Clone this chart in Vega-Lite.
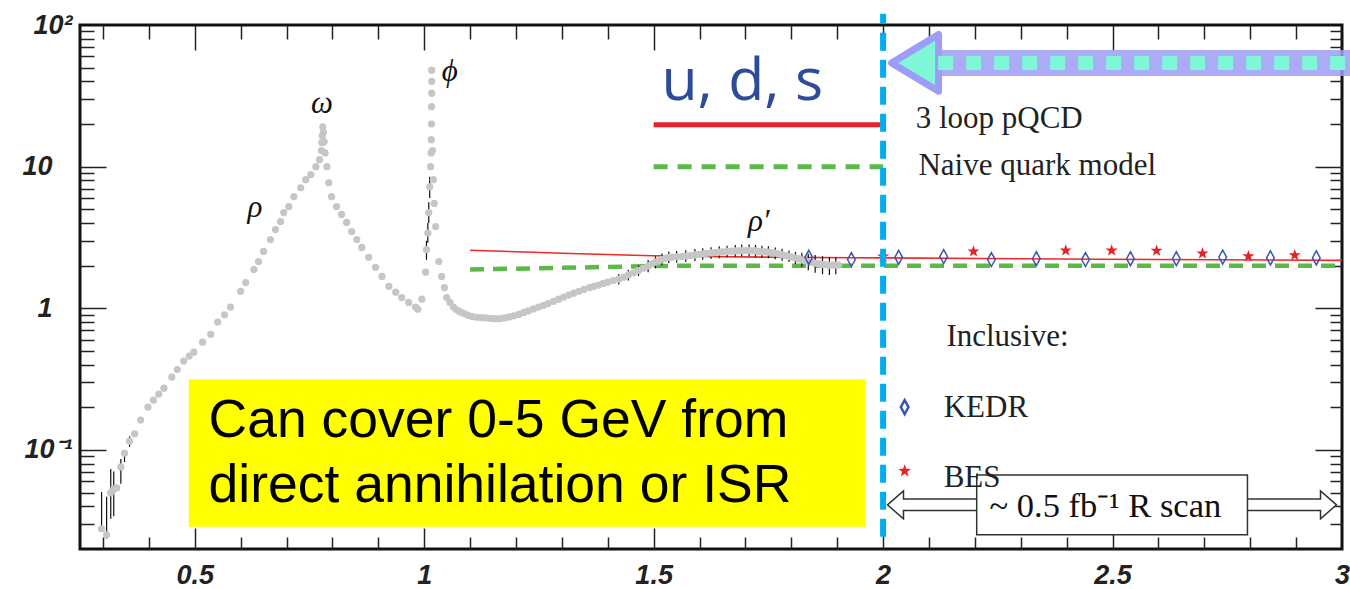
{
  "$schema": "https://vega.github.io/schema/vega-lite/v6.json",
  "width": 1262,
  "height": 524,
  "autosize": "none",
  "padding": {"left": 80, "top": 25, "right": 8, "bottom": 40},
  "background": "white",
  "config": {"view": {"stroke": "#111", "strokeWidth": 3}},
  "resolve": {"axis": {"x": "independent", "y": "independent"}},
  "datasets": {
    "ybox": [{"x1": 0.487, "x2": 1.962, "y1": 0.316, "y2": 0.0287}],
    "ytext": [
      {"x": 0.53, "y": 0.1236, "t": "Can cover 0-5 GeV from"},
      {"x": 0.53, "y": 0.043, "t": "direct annihilation or ISR"}
    ],
    "pqcd": [
      {"x": 1.1, "y": 2.57}, {"x": 1.2, "y": 2.51}, {"x": 1.3, "y": 2.45}, {"x": 1.4, "y": 2.4},
      {"x": 1.5, "y": 2.35}, {"x": 1.6, "y": 2.32}, {"x": 1.8, "y": 2.29}, {"x": 2.0, "y": 2.27},
      {"x": 2.3, "y": 2.24}, {"x": 2.6, "y": 2.21}, {"x": 3.0, "y": 2.18}
    ],
    "naive": [
      {"x": 1.1, "y": 1.88}, {"x": 1.3, "y": 1.93}, {"x": 1.5, "y": 1.99}, {"x": 1.6, "y": 2.0}, {"x": 3.0, "y": 2.0}
    ],
    "rdata": [
      {"x": 0.297, "y": 0.0278, "lo": 0.0265, "hi": 0.0506},
      {"x": 0.308, "y": 0.0252, "lo": 0.0236, "hi": 0.0467},
      {"x": 0.317, "y": 0.05, "lo": 0.0327, "hi": 0.0734},
      {"x": 0.3235, "y": 0.0531, "lo": 0.0341, "hi": 0.0706},
      {"x": 0.33, "y": 0.054},
      {"x": 0.339, "y": 0.0759, "lo": 0.0577, "hi": 0.0865},
      {"x": 0.347, "y": 0.095, "lo": 0.0822, "hi": 0.0984},
      {"x": 0.358, "y": 0.1156, "lo": 0.105, "hi": 0.125},
      {"x": 0.369, "y": 0.13},
      {"x": 0.382, "y": 0.1625},
      {"x": 0.398, "y": 0.201},
      {"x": 0.41, "y": 0.225},
      {"x": 0.4216, "y": 0.248},
      {"x": 0.433, "y": 0.273},
      {"x": 0.45, "y": 0.327},
      {"x": 0.462, "y": 0.37},
      {"x": 0.476, "y": 0.424},
      {"x": 0.488, "y": 0.46},
      {"x": 0.498, "y": 0.49},
      {"x": 0.517, "y": 0.577},
      {"x": 0.535, "y": 0.656},
      {"x": 0.55, "y": 0.8},
      {"x": 0.565, "y": 0.9},
      {"x": 0.578, "y": 1.02},
      {"x": 0.6, "y": 1.32},
      {"x": 0.611, "y": 1.52},
      {"x": 0.629, "y": 1.88},
      {"x": 0.639, "y": 2.14},
      {"x": 0.65, "y": 2.52},
      {"x": 0.665, "y": 3.06},
      {"x": 0.676, "y": 3.6},
      {"x": 0.687, "y": 4.1},
      {"x": 0.694, "y": 4.74},
      {"x": 0.705, "y": 5.23},
      {"x": 0.716, "y": 6.15},
      {"x": 0.731, "y": 7.1},
      {"x": 0.742, "y": 8.1},
      {"x": 0.753, "y": 8.8},
      {"x": 0.764, "y": 10},
      {"x": 0.772, "y": 11.2},
      {"x": 0.776, "y": 13},
      {"x": 0.777, "y": 14.8},
      {"x": 0.778, "y": 16.5},
      {"x": 0.779, "y": 19.1},
      {"x": 0.7805, "y": 17.5},
      {"x": 0.782, "y": 15},
      {"x": 0.784, "y": 12.5},
      {"x": 0.788, "y": 10},
      {"x": 0.792, "y": 7.7},
      {"x": 0.798, "y": 6.15},
      {"x": 0.809, "y": 5.23},
      {"x": 0.82, "y": 4.6},
      {"x": 0.831, "y": 4.04},
      {"x": 0.842, "y": 3.48},
      {"x": 0.853, "y": 3.06},
      {"x": 0.864, "y": 2.69},
      {"x": 0.879, "y": 2.29},
      {"x": 0.894, "y": 1.95},
      {"x": 0.908, "y": 1.68},
      {"x": 0.923, "y": 1.43},
      {"x": 0.938, "y": 1.3},
      {"x": 0.951, "y": 1.19},
      {"x": 0.966, "y": 1.1},
      {"x": 0.981, "y": 1.02},
      {"x": 0.986, "y": 0.985},
      {"x": 0.995, "y": 1.16},
      {"x": 1.003, "y": 1.8},
      {"x": 1.005, "y": 2.6, "lo": 2.2, "hi": 3.0},
      {"x": 1.008, "y": 3.4, "lo": 2.9, "hi": 4.0},
      {"x": 1.01, "y": 4.74, "lo": 4.0, "hi": 5.6},
      {"x": 1.012, "y": 7.2, "lo": 6.0, "hi": 8.5},
      {"x": 1.014, "y": 10},
      {"x": 1.015, "y": 12.5},
      {"x": 1.0155, "y": 15.5},
      {"x": 1.016, "y": 20},
      {"x": 1.016, "y": 26.5},
      {"x": 1.0165, "y": 33},
      {"x": 1.0165, "y": 40},
      {"x": 1.0163, "y": 48},
      {"x": 1.018, "y": 13},
      {"x": 1.02, "y": 8.1},
      {"x": 1.022, "y": 5.5},
      {"x": 1.025, "y": 3.78},
      {"x": 1.032, "y": 2.14},
      {"x": 1.038, "y": 1.68},
      {"x": 1.044, "y": 1.4},
      {"x": 1.049, "y": 1.19},
      {"x": 1.056, "y": 1.1},
      {"x": 1.064, "y": 1.02},
      {"x": 1.07, "y": 0.98},
      {"x": 1.077, "y": 0.95},
      {"x": 1.083, "y": 0.93},
      {"x": 1.09, "y": 0.91},
      {"x": 1.097, "y": 0.89},
      {"x": 1.105, "y": 0.875},
      {"x": 1.115, "y": 0.865},
      {"x": 1.125, "y": 0.86},
      {"x": 1.135, "y": 0.855},
      {"x": 1.145, "y": 0.85},
      {"x": 1.155, "y": 0.845},
      {"x": 1.165, "y": 0.845},
      {"x": 1.175, "y": 0.855},
      {"x": 1.185, "y": 0.87},
      {"x": 1.195, "y": 0.885},
      {"x": 1.206, "y": 0.905},
      {"x": 1.217, "y": 0.935},
      {"x": 1.227, "y": 0.96},
      {"x": 1.238, "y": 0.99},
      {"x": 1.249, "y": 1.02},
      {"x": 1.26, "y": 1.05},
      {"x": 1.27, "y": 1.08},
      {"x": 1.282, "y": 1.12},
      {"x": 1.293, "y": 1.16},
      {"x": 1.304, "y": 1.2},
      {"x": 1.315, "y": 1.24},
      {"x": 1.326, "y": 1.28},
      {"x": 1.337, "y": 1.32},
      {"x": 1.348, "y": 1.36},
      {"x": 1.36, "y": 1.4},
      {"x": 1.37, "y": 1.43},
      {"x": 1.38, "y": 1.46},
      {"x": 1.39, "y": 1.5},
      {"x": 1.4, "y": 1.53},
      {"x": 1.412, "y": 1.57},
      {"x": 1.424, "y": 1.61, "lo": 1.47, "hi": 1.75},
      {"x": 1.435, "y": 1.66},
      {"x": 1.445, "y": 1.72, "lo": 1.57, "hi": 1.87},
      {"x": 1.456, "y": 1.78},
      {"x": 1.467, "y": 1.85, "lo": 1.69, "hi": 2.01},
      {"x": 1.478, "y": 1.92},
      {"x": 1.488, "y": 1.99, "lo": 1.8, "hi": 2.19},
      {"x": 1.496, "y": 2.06},
      {"x": 1.504, "y": 2.12, "lo": 1.92, "hi": 2.33},
      {"x": 1.511, "y": 2.16},
      {"x": 1.518, "y": 2.22, "lo": 2.01, "hi": 2.44},
      {"x": 1.526, "y": 2.26},
      {"x": 1.533, "y": 2.29, "lo": 2.08, "hi": 2.52},
      {"x": 1.54, "y": 2.3},
      {"x": 1.55, "y": 2.31, "lo": 2.1, "hi": 2.54},
      {"x": 1.561, "y": 2.32},
      {"x": 1.57, "y": 2.34, "lo": 2.12, "hi": 2.57},
      {"x": 1.58, "y": 2.36},
      {"x": 1.59, "y": 2.38, "lo": 2.16, "hi": 2.62},
      {"x": 1.598, "y": 2.4},
      {"x": 1.607, "y": 2.42, "lo": 2.2, "hi": 2.66},
      {"x": 1.615, "y": 2.44},
      {"x": 1.625, "y": 2.46, "lo": 2.23, "hi": 2.7},
      {"x": 1.635, "y": 2.48},
      {"x": 1.643, "y": 2.49, "lo": 2.26, "hi": 2.74},
      {"x": 1.65, "y": 2.5},
      {"x": 1.66, "y": 2.52, "lo": 2.29, "hi": 2.77},
      {"x": 1.67, "y": 2.53},
      {"x": 1.678, "y": 2.54, "lo": 2.31, "hi": 2.8},
      {"x": 1.685, "y": 2.55},
      {"x": 1.692, "y": 2.56, "lo": 2.33, "hi": 2.82},
      {"x": 1.7, "y": 2.56},
      {"x": 1.708, "y": 2.56, "lo": 2.33, "hi": 2.82},
      {"x": 1.715, "y": 2.55},
      {"x": 1.722, "y": 2.54, "lo": 2.31, "hi": 2.8},
      {"x": 1.729, "y": 2.52},
      {"x": 1.736, "y": 2.51, "lo": 2.28, "hi": 2.76},
      {"x": 1.743, "y": 2.5},
      {"x": 1.75, "y": 2.49, "lo": 2.26, "hi": 2.74},
      {"x": 1.757, "y": 2.47},
      {"x": 1.765, "y": 2.45, "lo": 2.22, "hi": 2.69},
      {"x": 1.772, "y": 2.42},
      {"x": 1.78, "y": 2.39, "lo": 2.17, "hi": 2.63},
      {"x": 1.788, "y": 2.36},
      {"x": 1.795, "y": 2.33, "lo": 2.12, "hi": 2.56},
      {"x": 1.802, "y": 2.3},
      {"x": 1.809, "y": 2.27, "lo": 2.05, "hi": 2.5},
      {"x": 1.816, "y": 2.24},
      {"x": 1.823, "y": 2.2, "lo": 1.96, "hi": 2.47},
      {"x": 1.83, "y": 2.17},
      {"x": 1.837, "y": 2.14, "lo": 1.86, "hi": 2.43},
      {"x": 1.844, "y": 2.11},
      {"x": 1.852, "y": 2.08, "lo": 1.78, "hi": 2.38},
      {"x": 1.86, "y": 2.06},
      {"x": 1.868, "y": 2.04, "lo": 1.74, "hi": 2.33},
      {"x": 1.875, "y": 2.03},
      {"x": 1.883, "y": 2.02, "lo": 1.72, "hi": 2.3},
      {"x": 1.89, "y": 2.02},
      {"x": 1.897, "y": 2.02, "lo": 1.74, "hi": 2.29},
      {"x": 1.903, "y": 2.02}
    ],
    "kedr": [
      {"x": 1.838, "y": 2.29}, {"x": 1.931, "y": 2.21}, {"x": 2.034, "y": 2.29}, {"x": 2.132, "y": 2.32},
      {"x": 2.236, "y": 2.21}, {"x": 2.334, "y": 2.24}, {"x": 2.441, "y": 2.21}, {"x": 2.539, "y": 2.24},
      {"x": 2.639, "y": 2.24}, {"x": 2.74, "y": 2.3}, {"x": 2.844, "y": 2.27}, {"x": 2.944, "y": 2.27}
    ],
    "bes": [
      {"x": 2.0, "y": 2.32}, {"x": 2.197, "y": 2.52}, {"x": 2.398, "y": 2.56}, {"x": 2.498, "y": 2.56},
      {"x": 2.596, "y": 2.55}, {"x": 2.696, "y": 2.44}, {"x": 2.796, "y": 2.33}, {"x": 2.897, "y": 2.37}
    ],
    "legred": [{"x1": 1.5, "x2": 2.0, "y": 19.8}],
    "leggreen": [{"x1": 1.5, "x2": 2.0, "y": 10}],
    "vline": [{"x": 2.0, "y1": 0.0244, "y2": 120}],
    "arrow": [{"x1": 2.12, "x2": 3.03, "y": 54}],
    "arrowhead": [{"x": 2.0697, "y": 54}],
    "legtext": [
      {"x": 2.071, "y": 18.8, "t": "3 loop pQCD"},
      {"x": 2.077, "y": 8.79, "t": "Naive quark model"},
      {"x": 2.138, "y": 0.54, "t": "Inclusive:"},
      {"x": 2.132, "y": 0.1706, "t": "KEDR"},
      {"x": 2.132, "y": 0.0548, "t": "BES"}
    ],
    "legdia": [{"x": 2.047, "y": 0.201}],
    "legstar": [{"x": 2.047, "y": 0.0711}],
    "scanshaft": [{"x1": 2.035, "x2": 2.965, "y": 0.041}],
    "scanwhite": [{"x1": 2.04, "x2": 2.96, "y": 0.041}],
    "scanleft": [{"x": 2.027, "y": 0.041}],
    "scanright": [{"x": 2.9706, "y": 0.041}],
    "scanbox": [{"x1": 2.204, "x2": 2.794, "y1": 0.0667, "y2": 0.0252}],
    "scantext": [{"x": 2.232, "y": 0.0337, "t": "~ 0.5 fb⁻¹ R scan"}],
    "greek": [
      {"x": 0.631, "y": 5.14, "t": "ρ"},
      {"x": 0.777, "y": 27.8, "t": "ω"},
      {"x": 1.056, "y": 46.7, "t": "ϕ"},
      {"x": 1.729, "y": 4.1, "t": "ρ′"}
    ],
    "uds": [{"x": 1.517, "y": 29.6, "t": "u, d, s"}]
  },
  "layer": [
    {
      "data": {"name": "ybox"},
      "mark": {"type": "rect", "fill": "#ffff00"},
      "encoding": {
        "x": {"field": "x1", "type": "quantitative", "scale": {"domain": [0.25, 3], "nice": false, "zero": false}, "axis": null},
        "x2": {"field": "x2"},
        "y": {"field": "y1", "type": "quantitative", "scale": {"type": "log", "domain": [0.02, 100], "nice": false}, "axis": null},
        "y2": {"field": "y2"}
      }
    },
    {
      "data": {"name": "ytext"},
      "mark": {"type": "text", "align": "left", "baseline": "alphabetic", "font": "Liberation Sans", "fontSize": 53.5, "color": "#000"},
      "encoding": {
        "x": {"field": "x", "type": "quantitative", "axis": null},
        "y": {"field": "y", "type": "quantitative", "axis": null},
        "text": {"field": "t"}
      }
    },
    {
      "data": {"name": "pqcd"},
      "mark": {"type": "line", "color": "#ee2a2a", "strokeWidth": 1.6, "interpolate": "monotone"},
      "encoding": {
        "x": {"field": "x", "type": "quantitative", "axis": {"orient": "bottom", "values": [0.3,0.4,0.6,0.7,0.8,0.9,1.1,1.2,1.3,1.4,1.6,1.7,1.8,1.9,2.1,2.2,2.3,2.4,2.6,2.7,2.8,2.9], "labels": false, "ticks": true, "tickSize": -12, "tickWidth": 1.5, "tickColor": "#222", "domain": false, "grid": false, "title": null}},
        "y": {"field": "y", "type": "quantitative", "axis": {"orient": "left", "values": [0.03,0.04,0.05,0.06,0.07,0.08,0.09,0.2,0.3,0.4,0.5,0.6,0.7,0.8,0.9,2,3,4,5,6,7,8,9,20,30,40,50,60,70,80,90], "labels": false, "ticks": true, "tickSize": -14, "tickWidth": 1.5, "tickColor": "#222", "domain": false, "grid": false, "title": null}}
      }
    },
    {
      "data": {"name": "naive"},
      "mark": {"type": "line", "color": "#5cb947", "strokeWidth": 4.5, "strokeDash": [14, 9]},
      "encoding": {
        "x": {"field": "x", "type": "quantitative", "axis": {"orient": "top", "values": [0.5, 1, 1.5, 2, 2.5], "labels": false, "ticks": true, "tickSize": -25, "tickWidth": 1.5, "tickColor": "#222", "domain": false, "grid": false, "title": null}},
        "y": {"field": "y", "type": "quantitative", "axis": {"orient": "right", "values": [0.1, 1, 10], "labels": false, "ticks": true, "tickSize": -27, "tickWidth": 1.5, "tickColor": "#222", "domain": false, "grid": false, "title": null}}
      }
    },
    {
      "data": {"name": "rdata"},
      "transform": [{"filter": "isValid(datum.lo)"}],
      "mark": {"type": "rule", "color": "#111", "strokeWidth": 1.2},
      "encoding": {
        "x": {"field": "x", "type": "quantitative", "axis": {"orient": "bottom", "values": [0.5, 1, 1.5, 2, 2.5], "labels": false, "ticks": true, "tickSize": -21, "tickWidth": 1.5, "tickColor": "#222", "domain": false, "grid": false, "title": null}},
        "y": {"field": "lo", "type": "quantitative", "axis": {"orient": "left", "values": [0.1, 1, 10], "labels": false, "ticks": true, "tickSize": -26, "tickWidth": 1.5, "tickColor": "#222", "domain": false, "grid": false, "title": null}},
        "y2": {"field": "hi"}
      }
    },
    {
      "data": {"name": "rdata"},
      "mark": {"type": "point", "filled": true, "color": "#c6c6c6", "opacity": 1, "size": 52, "shape": "circle"},
      "encoding": {
        "x": {"field": "x", "type": "quantitative", "axis": {"orient": "bottom", "values": [0.5, 1, 1.5, 2, 2.5, 3], "labelExpr": "format(datum.value, '~g')", "ticks": false, "tickSize": 0, "labelPadding": 13, "labelFlush": false, "labelOverlap": false, "labelFont": "Liberation Sans", "labelFontSize": 27, "labelFontWeight": "bold", "labelFontStyle": "italic", "labelColor": "#222", "domain": false, "grid": false, "title": null}},
        "y": {"field": "y", "type": "quantitative", "axis": {"orient": "left", "values": [0.1, 1, 10, 100], "labelExpr": "datum.value == 100 ? '10²' : datum.value == 10 ? '10' : datum.value == 1 ? '1' : '10⁻¹'", "ticks": false, "tickSize": 0, "labelPadding": {"condition": {"test": "datum.value == 10 || datum.value == 1", "value": 28}, "value": 8}, "labelFlush": false, "labelOverlap": false, "labelFont": "Liberation Sans", "labelFontSize": 27, "labelFontWeight": "bold", "labelFontStyle": "italic", "labelColor": "#222", "domain": false, "grid": false, "title": null}}
      }
    },
    {
      "data": {"name": "kedr"},
      "mark": {"type": "point", "filled": false, "shape": "M0,-1L0.55,0L0,1L-0.55,0Z", "size": 196, "stroke": "#3a55b5", "strokeWidth": 1.5, "opacity": 1},
      "encoding": {
        "x": {"field": "x", "type": "quantitative", "axis": {"orient": "top", "values": [0.3,0.4,0.6,0.7,0.8,0.9,1.1,1.2,1.3,1.4,1.6,1.7,1.8,1.9,2.1,2.2,2.3,2.4,2.6,2.7,2.8,2.9], "labels": false, "ticks": true, "tickSize": -14, "tickWidth": 1.5, "tickColor": "#222", "domain": false, "grid": false, "title": null}},
        "y": {"field": "y", "type": "quantitative", "axis": {"orient": "right", "values": [0.03,0.04,0.05,0.06,0.07,0.08,0.09,0.2,0.3,0.4,0.5,0.6,0.7,0.8,0.9,2,3,4,5,6,7,8,9,20,30,40,50,60,70,80,90], "labels": false, "ticks": true, "tickSize": -12, "tickWidth": 1.5, "tickColor": "#222", "domain": false, "grid": false, "title": null}}
      }
    },
    {
      "data": {"name": "bes"},
      "mark": {"type": "point", "filled": true, "shape": "M0,-1L0.235,-0.324L0.951,-0.309L0.38,0.124L0.588,0.809L0,0.4L-0.588,0.809L-0.38,0.124L-0.951,-0.309L-0.235,-0.324Z", "size": 160, "color": "#e8202a", "opacity": 1},
      "encoding": {
        "x": {"field": "x", "type": "quantitative", "axis": null},
        "y": {"field": "y", "type": "quantitative", "axis": null}
      }
    },
    {
      "data": {"name": "legred"},
      "mark": {"type": "rule", "color": "#e8202a", "strokeWidth": 5},
      "encoding": {
        "x": {"field": "x1", "type": "quantitative", "axis": null},
        "x2": {"field": "x2"},
        "y": {"field": "y", "type": "quantitative", "axis": null}
      }
    },
    {
      "data": {"name": "leggreen"},
      "mark": {"type": "rule", "color": "#5cb947", "strokeWidth": 5, "strokeDash": [14, 10]},
      "encoding": {
        "x": {"field": "x1", "type": "quantitative", "axis": null},
        "x2": {"field": "x2"},
        "y": {"field": "y", "type": "quantitative", "axis": null}
      }
    },
    {
      "data": {"name": "vline"},
      "mark": {"type": "rule", "color": "#00aeef", "strokeWidth": 6, "strokeDash": [18, 9]},
      "encoding": {
        "x": {"field": "x", "type": "quantitative", "axis": null},
        "y": {"field": "y1", "type": "quantitative", "axis": null},
        "y2": {"field": "y2"}
      }
    },
    {
      "data": {"name": "arrow"},
      "mark": {"type": "rule", "color": "#9d9cf7", "strokeWidth": 26, "opacity": 0.85},
      "encoding": {
        "x": {"field": "x1", "type": "quantitative", "axis": null},
        "x2": {"field": "x2"},
        "y": {"field": "y", "type": "quantitative", "axis": null}
      }
    },
    {
      "data": {"name": "arrowhead"},
      "mark": {"type": "point", "filled": true, "shape": "M-1,0L1,-1.21L1,1.21Z", "size": 2209, "fill": "#7ff7d6", "stroke": "#9d9cf7", "strokeWidth": 7, "opacity": 1, "strokeJoin": "round"},
      "encoding": {
        "x": {"field": "x", "type": "quantitative", "axis": null},
        "y": {"field": "y", "type": "quantitative", "axis": null}
      }
    },
    {
      "data": {"name": "arrow"},
      "mark": {"type": "rule", "color": "#7ff7d6", "strokeWidth": 14, "strokeDash": [15, 13]},
      "encoding": {
        "x": {"field": "x1", "type": "quantitative", "axis": null},
        "x2": {"field": "x2"},
        "y": {"field": "y", "type": "quantitative", "axis": null}
      }
    },
    {
      "data": {"name": "legdia"},
      "mark": {"type": "point", "filled": false, "shape": "M0,-1L0.55,0L0,1L-0.55,0Z", "size": 196, "stroke": "#3a55b5", "strokeWidth": 2.5, "opacity": 1},
      "encoding": {
        "x": {"field": "x", "type": "quantitative", "axis": null},
        "y": {"field": "y", "type": "quantitative", "axis": null}
      }
    },
    {
      "data": {"name": "legstar"},
      "mark": {"type": "point", "filled": true, "shape": "M0,-1L0.235,-0.324L0.951,-0.309L0.38,0.124L0.588,0.809L0,0.4L-0.588,0.809L-0.38,0.124L-0.951,-0.309L-0.235,-0.324Z", "size": 180, "color": "#e8202a", "opacity": 1},
      "encoding": {
        "x": {"field": "x", "type": "quantitative", "axis": null},
        "y": {"field": "y", "type": "quantitative", "axis": null}
      }
    },
    {
      "data": {"name": "scanshaft"},
      "mark": {"type": "rule", "color": "#333", "strokeWidth": 13},
      "encoding": {
        "x": {"field": "x1", "type": "quantitative", "axis": null},
        "x2": {"field": "x2"},
        "y": {"field": "y", "type": "quantitative", "axis": null}
      }
    },
    {
      "data": {"name": "scanleft"},
      "mark": {"type": "point", "filled": true, "shape": "M-1,0L1,-1.75L1,1.75Z", "size": 256, "fill": "white", "stroke": "#333", "strokeWidth": 1.5, "opacity": 1},
      "encoding": {
        "x": {"field": "x", "type": "quantitative", "axis": null},
        "y": {"field": "y", "type": "quantitative", "axis": null}
      }
    },
    {
      "data": {"name": "scanright"},
      "mark": {"type": "point", "filled": true, "shape": "M1,0L-1,-1.75L-1,1.75Z", "size": 256, "fill": "white", "stroke": "#333", "strokeWidth": 1.5, "opacity": 1},
      "encoding": {
        "x": {"field": "x", "type": "quantitative", "axis": null},
        "y": {"field": "y", "type": "quantitative", "axis": null}
      }
    },
    {
      "data": {"name": "scanwhite"},
      "mark": {"type": "rule", "color": "white", "strokeWidth": 10},
      "encoding": {
        "x": {"field": "x1", "type": "quantitative", "axis": null},
        "x2": {"field": "x2"},
        "y": {"field": "y", "type": "quantitative", "axis": null}
      }
    },
    {
      "data": {"name": "scanbox"},
      "mark": {"type": "rect", "fill": "white", "stroke": "#333", "strokeWidth": 1.5},
      "encoding": {
        "x": {"field": "x1", "type": "quantitative", "axis": null},
        "x2": {"field": "x2"},
        "y": {"field": "y1", "type": "quantitative", "axis": null},
        "y2": {"field": "y2"}
      }
    },
    {
      "data": {"name": "legtext"},
      "mark": {"type": "text", "align": "left", "baseline": "alphabetic", "font": "Liberation Serif", "fontSize": 31, "color": "#222"},
      "encoding": {
        "x": {"field": "x", "type": "quantitative", "axis": null},
        "y": {"field": "y", "type": "quantitative", "axis": null},
        "text": {"field": "t"}
      }
    },
    {
      "data": {"name": "scantext"},
      "mark": {"type": "text", "align": "left", "baseline": "alphabetic", "font": "Liberation Serif", "fontSize": 34.5, "color": "#111"},
      "encoding": {
        "x": {"field": "x", "type": "quantitative", "axis": null},
        "y": {"field": "y", "type": "quantitative", "axis": null},
        "text": {"field": "t"}
      }
    },
    {
      "data": {"name": "greek"},
      "mark": {"type": "text", "align": "center", "baseline": "middle", "font": "Liberation Serif", "fontStyle": "italic", "fontSize": 31, "color": "#111"},
      "encoding": {
        "x": {"field": "x", "type": "quantitative", "axis": null},
        "y": {"field": "y", "type": "quantitative", "axis": null},
        "text": {"field": "t"}
      }
    },
    {
      "data": {"name": "uds"},
      "mark": {"type": "text", "align": "left", "baseline": "alphabetic", "font": "Open Sans", "fontSize": 59, "color": "#2d4b9b"},
      "encoding": {
        "x": {"field": "x", "type": "quantitative", "axis": null},
        "y": {"field": "y", "type": "quantitative", "axis": null},
        "text": {"field": "t"}
      }
    }
  ]
}
